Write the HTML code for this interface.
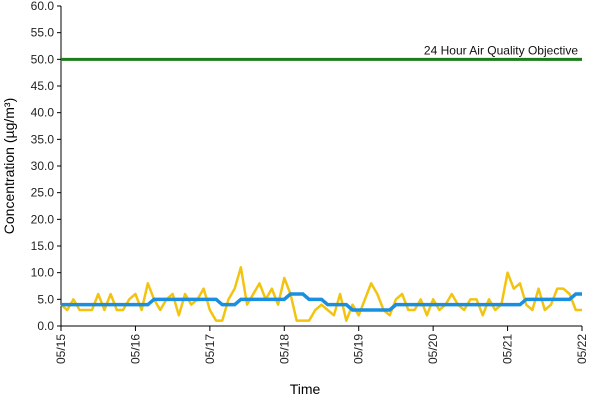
<!DOCTYPE html>
<html><head><meta charset="utf-8"><style>
body{margin:0;background:#fff;font-family:"Liberation Sans",sans-serif}
svg text{font-family:"Liberation Sans",sans-serif}
</style></head><body>
<svg width="600" height="400">
<g id="axes"></g><g id="series"></g>
<text x="305" y="394" font-size="14" text-anchor="middle">Time</text>
<text transform="translate(14,166) rotate(-90)" font-size="14" text-anchor="middle">Concentration (µg/m³)</text>
</svg>
<script>
const yTicks=[0,5,10,15,20,25,30,35,40,45,50,55,60];
const xLabels=["05/15","05/16","05/17","05/18","05/19","05/20","05/21","05/22"];
const objective=50;
const objectiveLabel="24 Hour Air Quality Objective";
const hourly=[4,3,5,3,3,3,6,3,6,3,3,5,
6,3,8,5,3,5,6,2,6,4,5,7,
3,1,1,5,7,11,4,6,8,5,7,4,
9,6,1,1,1,3,4,3,2,6,1,4,
2,5,8,6,3,2,5,6,3,3,5,2,
5,3,4,6,4,3,5,5,2,5,3,4,
10,7,8,4,3,7,3,4,7,7,6,3,3];
const rolling=[4,4,4,4,4,4,4,4,4,4,4,4,4,4,4,
5,5,5,5,5,5,5,5,5,5,5,
4,4,4,
5,5,5,5,5,5,5,5,
6,6,6,
5,5,5,
4,4,4,4,
3,3,3,3,3,3,3,
4,4,4,4,4,4,4,4,4,4,4,4,4,4,4,4,4,4,4,4,4,
5,5,5,5,5,5,5,5,
6,6];
const X0=61,X1=582,Y0=326,YT=6;
const sx=i=>X0+(X1-X0)*i/(hourly.length-1);
const sy=v=>Y0-(Y0-YT)*v/60;
const NS="http://www.w3.org/2000/svg";
const ax=document.getElementById('axes'),se=document.getElementById('series');
function mk(tag,attrs,parent){const e=document.createElementNS(NS,tag);for(const k in attrs)e.setAttribute(k,attrs[k]);parent.appendChild(e);return e;}
let l=mk('line',{x1:X0,y1:YT,x2:X0,y2:Y0,stroke:'#000'},ax);


l=mk('line',{x1:X0,y1:Y0,x2:X1,y2:Y0,stroke:'#000'},ax);


yTicks.forEach(v=>{
 mk('line',{x1:X0-4,y1:sy(v),x2:X0,y2:sy(v),stroke:'#000'},ax);
 const t=mk('text',{x:X0-7,y:sy(v)+4,'font-size':12,'text-anchor':'end',fill:'#222'},ax);
 t.textContent=v.toFixed(1);
 
 
});
xLabels.forEach((s,i)=>{
 const x=X0+(X1-X0)*i/(xLabels.length-1);
 mk('line',{x1:x,y1:Y0,x2:x,y2:Y0+5,stroke:'#000'},ax);
 const t=mk('text',{transform:`translate(${x+4},${Y0+8}) rotate(-90)`,'font-size':12,'text-anchor':'end',fill:'#222'},ax);
 t.textContent=s;
 
 
});
const obj=mk('line',{x1:X0,y1:sy(objective),x2:X1,y2:sy(objective),stroke:'#1a7d1a','stroke-width':3},se);


const ot=mk('text',{x:X1-4,y:sy(objective)-5,'font-size':12,'text-anchor':'end',fill:'#111'},se);
ot.textContent=objectiveLabel;


const yp=mk('polyline',{points:hourly.map((v,i)=>sx(i)+','+sy(v)).join(' '),fill:'none',stroke:'#f2c40f','stroke-width':2.5,'stroke-linejoin':'round'},se);


const rx=i=>X0+(X1-X0)*i/(rolling.length-1);
const bp=mk('polyline',{points:rolling.map((v,i)=>rx(i)+','+sy(v)).join(' '),fill:'none',stroke:'#1a8fe0','stroke-width':3.5},se);


</script>
</body></html>
